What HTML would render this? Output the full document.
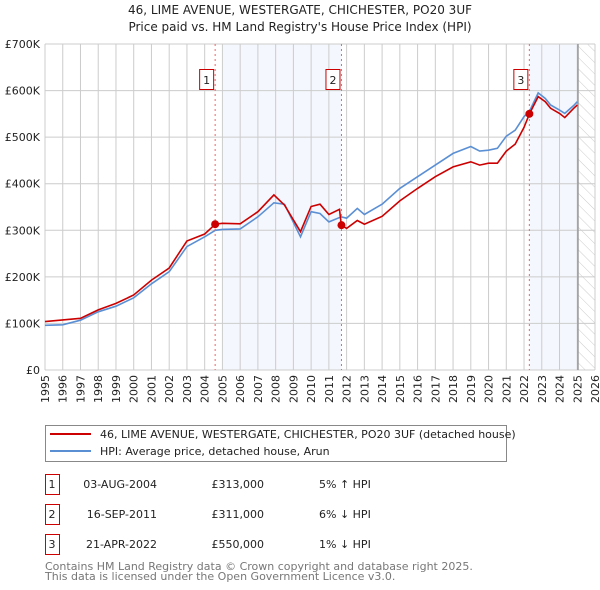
<!DOCTYPE html>
<html><head><meta charset="utf-8"><style>
body{margin:0;background:#fff;font-family:"Liberation Sans","DejaVu Sans",sans-serif;}
#wrap{position:relative;width:600px;height:590px;overflow:hidden;}
</style></head><body>
<div id="wrap">
<svg id="chart" width="600" height="590" xmlns="http://www.w3.org/2000/svg" font-family="DejaVu Sans, Liberation Sans, sans-serif">
<defs><pattern id="hatch" width="8" height="8" patternUnits="userSpaceOnUse" patternTransform="rotate(-45)"><line x1="0" y1="0" x2="0" y2="8" stroke="#ccc" stroke-width="1"/></pattern></defs>
<text x="300" y="14" text-anchor="middle" font-size="12" fill="#222">46, LIME AVENUE, WESTERGATE, CHICHESTER, PO20 3UF</text>
<text x="300" y="31" text-anchor="middle" font-size="12" fill="#222">Price paid vs. HM Land Registry's House Price Index (HPI)</text>
<g id="bg"></g><g id="grid"></g><g id="axes"></g><g id="series"></g><g id="marks"></g>
<g>
<rect x="45.5" y="425.5" width="461" height="36" fill="#fff" stroke="#888"/>
<line x1="50" y1="434" x2="91" y2="434" stroke="#cc0000" stroke-width="2"/>
<text x="100" y="438" font-size="11" fill="#222">46, LIME AVENUE, WESTERGATE, CHICHESTER, PO20 3UF (detached house)</text>
<line x1="50" y1="451" x2="91" y2="451" stroke="#5b8fd4" stroke-width="2"/>
<text x="100" y="455" font-size="11" fill="#222">HPI: Average price, detached house, Arun</text>
</g>
<g id="table" font-size="11" fill="#222"></g>
<text x="45" y="570" font-size="11" fill="#777">Contains HM Land Registry data © Crown copyright and database right 2025.</text>
<text x="45" y="580" font-size="11" fill="#777">This data is licensed under the Open Government Licence v3.0.</text>
</svg>
</div>
<script>
const hpiYears=[1995,1996,1997,1998,1999,2000,2001,2002,2003,2004,2004.6,2005,2006,2007,2007.9,2008.5,2009.4,2010,2010.5,2011,2011.7,2012,2012.6,2013,2014,2015,2016,2017,2018,2019,2019.5,2020,2020.5,2021,2021.5,2022,2022.3,2022.8,2023.2,2023.5,2024,2024.3,2024.8,2025];
const hpiValues=[96,97,107,125,137,155,185,211,265,286,300,302,303,329,359,356,286,340,336,318,329,326,347,334,356,390,415,440,465,480,470,472,476,502,515,544,555,595,583,569,558,551,568,576];
const propYears=[1995,1997,1998,1999,2000,2001,2002,2003,2004,2004.6,2005,2006,2007,2007.9,2008.5,2009.4,2010,2010.5,2011,2011.6,2011.7,2012,2012.6,2013,2014,2015,2016,2017,2018,2019,2019.5,2020,2020.5,2021,2021.5,2022,2022.3,2022.8,2023.2,2023.5,2024,2024.3,2024.8,2025];
const propValues=[104,111,129,143,161,193,219,277,292,313,315,314,340,376,354,297,351,356,334,345,311,304,321,313,330,363,390,415,436,447,440,444,444,470,485,521,550,587,576,562,551,542,562,569];
const saleLabels=["1","2","3"];
const saleYears=[2004.59,2011.71,2022.30];
const salePrices=[313,311,550];
const saleDates=["03-AUG-2004","16-SEP-2011","21-APR-2022"];
const salePriceText=["£313,000","£311,000","£550,000"];
const saleHpiText=["5% ↑ HPI","6% ↓ HPI","1% ↓ HPI"];
const yTicks=[0,100,200,300,400,500,600,700];
const yTickLabels=["£0","£100K","£200K","£300K","£400K","£500K","£600K","£700K"];
const xTicks=[1995,1996,1997,1998,1999,2000,2001,2002,2003,2004,2005,2006,2007,2008,2009,2010,2011,2012,2013,2014,2015,2016,2017,2018,2019,2020,2021,2022,2023,2024,2025,2026];

const L=45,R=595,T=44,B=370,X0=1995,X1=2026,VMAX=700;
const NS="http://www.w3.org/2000/svg";
function x(yr){return L+(yr-X0)/(X1-X0)*(R-L);}
function y(v){return B-v/VMAX*(B-T);}
function mk(tag,attrs,parent){const e=document.createElementNS(NS,tag);for(const k in attrs)e.setAttribute(k,attrs[k]);parent.appendChild(e);return e;}
const bg=document.getElementById('bg'),grid=document.getElementById('grid'),axes=document.getElementById('axes'),series=document.getElementById('series'),marks=document.getElementById('marks'),table=document.getElementById('table');
let s1=mk('rect',{x:x(2005),y:T,width:x(saleYears[1])-x(2005),height:B-T,fill:'#f4f7fd'},bg);


let s2=mk('rect',{x:x(saleYears[2]),y:T,width:x(2025.04)-x(saleYears[2]),height:B-T,fill:'#f4f7fd'},bg);


let hz=mk('rect',{x:x(2025.04),y:T,width:R-x(2025.04),height:B-T,fill:'url(#hatch)'},bg);


xTicks.forEach(t=>{const l=mk('line',{x1:x(t),y1:T,x2:x(t),y2:B,stroke:'#ccc','stroke-width':1},grid);


const tx=mk('text',{x:0,y:0,transform:`translate(${x(t)+4},${B+5}) rotate(-90)`,'text-anchor':'end','font-size':11,fill:'#222'},axes);tx.textContent=t;

});
yTicks.forEach((t,i)=>{const l=mk('line',{x1:L,y1:y(t),x2:R,y2:y(t),stroke:'#ccc','stroke-width':1},grid);


const tx=mk('text',{x:L-5,y:y(t)+4,'text-anchor':'end','font-size':11,fill:'#222'},axes);tx.textContent=yTickLabels[i];

});
let nl=mk('line',{x1:x(2025.04),y1:T,x2:x(2025.04),y2:B,stroke:'#999','stroke-width':1.5},grid);


function path(xs,vs){return xs.map((a,i)=>(i?'L':'M')+x(a).toFixed(1)+','+y(vs[i]).toFixed(1)).join('');}
let hp=mk('path',{d:path(hpiYears,hpiValues),fill:'none',stroke:'#5b8fd4','stroke-width':1.6},series);


let pp=mk('path',{d:path(propYears,propValues),fill:'none',stroke:'#cc0000','stroke-width':1.6},series);


saleYears.forEach((sy,i)=>{
const vl=mk('line',{x1:x(sy),y1:T,x2:x(sy),y2:B,stroke:'#e66','stroke-width':1,'stroke-dasharray':'2,3'},marks);


const bx=mk('rect',{x:x(sy)-15.5,y:69.5,width:14,height:20,fill:'#fff',stroke:'#cc0000'},marks);


const bt=mk('text',{x:x(sy)-8.5,y:84,'text-anchor':'middle','font-size':11,fill:'#222'},marks);bt.textContent=saleLabels[i];


const d=mk('circle',{cx:x(sy),cy:y(salePrices[i]),r:4,fill:'#cc0000'},marks);


const ry=484+i*30;
const tb=mk('rect',{x:45.5,y:ry-9.5,width:14,height:20,fill:'#fff',stroke:'#cc0000'},table);


const cells=[[52,saleLabels[i],'middle'],[157,saleDates[i],'end'],[264,salePriceText[i],'end'],[319,saleHpiText[i],'start']];
cells.forEach(c=>{const t=mk('text',{x:c[0],y:ry+4,'text-anchor':c[2]},table);t.textContent=c[1];

});
});
</script>
</body></html>
